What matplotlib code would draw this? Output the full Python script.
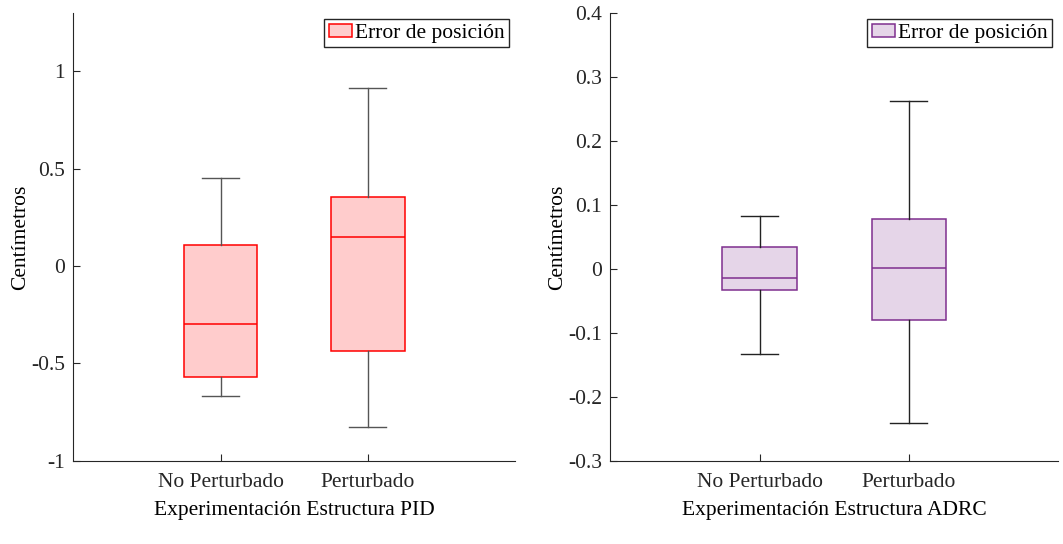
import matplotlib
matplotlib.use("Agg")
import matplotlib.pyplot as plt
from matplotlib.patches import Patch

plt.rcParams['font.family'] = ['Liberation Serif', 'DejaVu Serif']
plt.rcParams['font.size'] = 15.5

# box statistics read for each experiment (cm)
categories = ["No Perturbado", "Perturbado"]

pid_whislo = [-0.666, -0.827]
pid_q1 = [-0.572, -0.438]
pid_med = [-0.300, 0.151]
pid_q3 = [0.106, 0.356]
pid_whishi = [0.454, 0.913]

adrc_whislo = [-0.133, -0.241]
adrc_q1 = [-0.0334, -0.0803]
adrc_med = [-0.0146, 0.002]
adrc_q3 = [0.0344, 0.0772]
adrc_whishi = [0.0825, 0.2624]


def make_stats(lo, q1, med, q3, hi):
    return [dict(whislo=a, q1=b, med=c, q3=d, whishi=e, fliers=[])
            for a, b, c, d, e in zip(lo, q1, med, q3, hi)]


def draw_panel(ax, stats, edge, fill, whisk, ylim, yticks, ytlabels, xlabel):
    ax.bxp(stats, positions=[1, 2], widths=0.5, patch_artist=True,
           showfliers=False,
           boxprops=dict(facecolor=fill, edgecolor=edge, linewidth=1.1),
           medianprops=dict(color=edge, linewidth=1.1),
           whiskerprops=dict(color=whisk, linewidth=1.0),
           capprops=dict(color=whisk, linewidth=1.0), capwidths=0.25)
    ax.set_xlim(0, 3)
    ax.set_ylim(*ylim)
    ax.set_yticks(yticks)
    ax.set_yticklabels(ytlabels)
    ax.set_xticks([1, 2])
    ax.set_xticklabels(categories)
    ax.set_ylabel("Centímetros", labelpad=1)
    ax.set_xlabel(xlabel, labelpad=6)
    for s in ["top", "right"]:
        ax.spines[s].set_visible(False)
    for s in ["left", "bottom"]:
        ax.spines[s].set_color("#262626")
    ax.tick_params(direction="in", length=5, colors="#262626")
    ax.tick_params(axis="y", pad=6)
    ax.tick_params(axis="x", pad=9)
    leg = ax.legend(handles=[Patch(facecolor=fill, edgecolor=edge, linewidth=1.1,
                                   label="Error de posición")],
                    loc="upper right", bbox_to_anchor=(1.0, 1.0),
                    fancybox=False, framealpha=1, edgecolor="#262626",
                    borderpad=0.2, handlelength=1.1, handleheight=0.6,
                    handletextpad=0.1, borderaxespad=0.3)
    leg.get_frame().set_linewidth(1.0)


fig = plt.figure(figsize=(10.63, 5.44), dpi=100)
ax1 = fig.add_axes([0.0691, 0.1531, 0.4154, 0.823])
ax2 = fig.add_axes([0.5743, 0.1531, 0.4210, 0.823])

draw_panel(ax1, make_stats(pid_whislo, pid_q1, pid_med, pid_q3, pid_whishi),
           "#FF0000", "#FFCCCC", "#555555", (-1, 1.3),
           [-1, -0.5, 0, 0.5, 1], ["-1", "-0.5", "0", "0.5", "1"],
           "Experimentación Estructura PID")
draw_panel(ax2, make_stats(adrc_whislo, adrc_q1, adrc_med, adrc_q3, adrc_whishi),
           "#7E2F8E", "#E5D5E8", "#222222", (-0.3, 0.4),
           [-0.3, -0.2, -0.1, 0, 0.1, 0.2, 0.3, 0.4],
           ["-0.3", "-0.2", "-0.1", "0", "0.1", "0.2", "0.3", "0.4"],
           "Experimentación Estructura ADRC")

fig.savefig("out.png", dpi=100)
